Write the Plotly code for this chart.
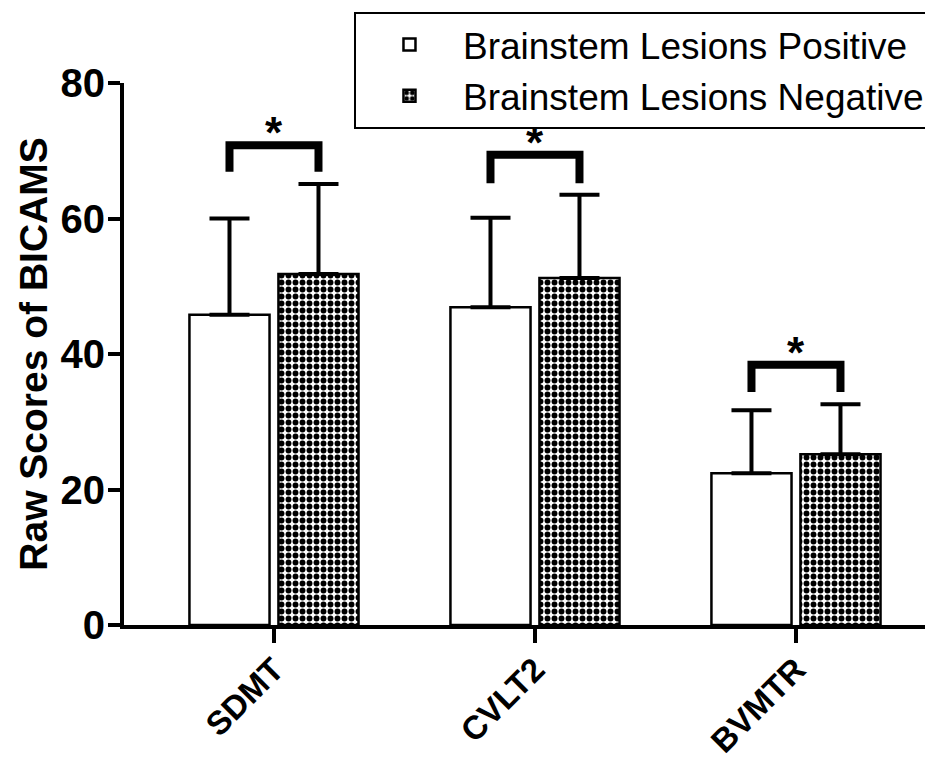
import plotly.graph_objects as go

# values
tests = ["SDMT", "CVLT2", "BVMTR"]
positive_mean = [45.8, 46.9, 22.4]
positive_sd = [14.2, 13.2, 9.3]
negative_mean = [51.8, 51.2, 25.2]
negative_sd = [13.3, 12.3, 7.4]
bracket_top = [70.8, 69.4, 38.4]
bracket_leg = [66.9, 65.2, 34.4]
y_ticks = [0, 20, 40, 60, 80]

FONT = "Liberation Sans, Arial, sans-serif"
pos = list(range(len(tests)))
half = 0.1705  # distance from group centre to bar centre

fig = go.Figure()

fig.add_trace(go.Bar(
    x=pos, y=positive_mean, name="Brainstem Lesions Positive",
    marker=dict(color="white", line=dict(color="black", width=2.5)),
    error_y=dict(type="data", array=positive_sd, arrayminus=[0] * len(tests),
                 symmetric=False, color="black", thickness=4, width=20),
))
fig.add_trace(go.Bar(
    x=pos, y=negative_mean, name="Brainstem Lesions Negative",
    marker=dict(color="white", line=dict(color="black", width=2.5),
                pattern=dict(shape=".", bgcolor="white", fgcolor="black",
                             fgopacity=1, size=7, solidity=0.55)),
    error_y=dict(type="data", array=negative_sd, arrayminus=[0] * len(tests),
                 symmetric=False, color="black", thickness=4, width=20),
))

# significance brackets
for i in pos:
    fig.add_trace(go.Scatter(
        x=[i - half, i - half, i + half, i + half],
        y=[bracket_leg[i], bracket_top[i], bracket_top[i], bracket_leg[i]],
        mode="lines", line=dict(color="black", width=8),
        showlegend=False, hoverinfo="skip",
    ))
    fig.add_annotation(x=i, y=bracket_top[i], text="*", showarrow=False,
                       yanchor="bottom", yshift=-14,
                       font=dict(family=FONT, size=44, color="black", weight="bold"))

# the page body adds an 8px offset, so the figure is 8px smaller than the window
fig.update_layout(
    width=925, height=754,
    margin=dict(l=116, r=0, t=75, b=137, autoexpand=False),
    plot_bgcolor="white", paper_bgcolor="white",
    barmode="group", bargap=0.318, bargroupgap=0.1,
    font=dict(family=FONT, color="black"),
    legend=dict(x=0.9975, y=1.131, xanchor="right", yanchor="top",
                bgcolor="white", bordercolor="black", borderwidth=2,
                font=dict(family=FONT, size=37, color="black"),
                itemwidth=97, tracegroupgap=0),
)
fig.update_xaxes(
    range=[-0.5747, 2.525], tickmode="array", tickvals=pos, ticktext=tests,
    tickangle=-45, ticks="outside", ticklen=14, tickwidth=4, tickcolor="black",
    ticklabelstandoff=-6,
    showline=True, linewidth=4, linecolor="black", showgrid=False, zeroline=False,
    automargin=False,
    tickfont=dict(family=FONT, size=33, color="black", weight="bold"),
)
fig.update_yaxes(
    range=[0, 80], tickmode="array", tickvals=y_ticks,
    ticks="outside", ticklen=12, tickwidth=4, tickcolor="black",
    ticklabelstandoff=-5,
    showline=True, linewidth=4, linecolor="black", showgrid=False, zeroline=False,
    automargin=False,
    tickfont=dict(family=FONT, size=40, color="black", weight="bold"),
    title=dict(text="Raw Scores of BICAMS", standoff=2,
               font=dict(family=FONT, size=39, color="black", weight="bold")),
)

fig.write_html("out.html")
